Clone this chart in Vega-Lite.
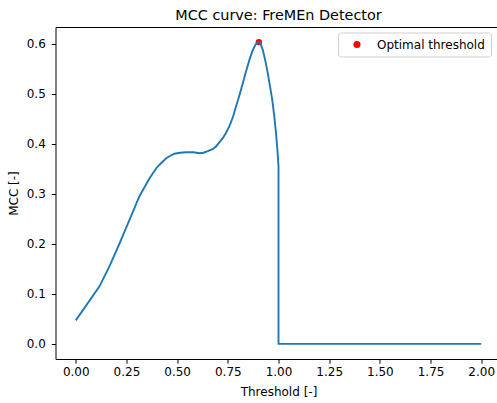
{
  "$schema": "https://vega.github.io/schema/vega-lite/v6.json",
  "autosize": {"type": "none"},
  "padding": {"left": 55.5, "top": 27, "right": 0, "bottom": 44},
  "width": 446,
  "height": 332,
  "title": {
    "text": "MCC curve: FreMEn Detector",
    "fontSize": 14.4,
    "fontWeight": "normal",
    "font": "DejaVu Sans",
    "color": "black",
    "anchor": "middle",
    "frame": "group",
    "offset": 4
  },
  "datasets": {
    "curve": [
      {"i": 0, "threshold": 0.0, "mcc": 0.047},
      {"i": 1, "threshold": 0.117, "mcc": 0.115},
      {"i": 2, "threshold": 0.166, "mcc": 0.155},
      {"i": 3, "threshold": 0.216, "mcc": 0.201},
      {"i": 4, "threshold": 0.265, "mcc": 0.248},
      {"i": 5, "threshold": 0.314, "mcc": 0.295},
      {"i": 6, "threshold": 0.364, "mcc": 0.331},
      {"i": 7, "threshold": 0.397, "mcc": 0.351},
      {"i": 8, "threshold": 0.413, "mcc": 0.358},
      {"i": 9, "threshold": 0.446, "mcc": 0.371},
      {"i": 10, "threshold": 0.462, "mcc": 0.375},
      {"i": 11, "threshold": 0.487, "mcc": 0.38},
      {"i": 12, "threshold": 0.515, "mcc": 0.382},
      {"i": 13, "threshold": 0.544, "mcc": 0.383},
      {"i": 14, "threshold": 0.58, "mcc": 0.383},
      {"i": 15, "threshold": 0.61, "mcc": 0.381},
      {"i": 16, "threshold": 0.63, "mcc": 0.382},
      {"i": 17, "threshold": 0.651, "mcc": 0.385},
      {"i": 18, "threshold": 0.675, "mcc": 0.389},
      {"i": 19, "threshold": 0.693, "mcc": 0.395},
      {"i": 20, "threshold": 0.709, "mcc": 0.403},
      {"i": 21, "threshold": 0.725, "mcc": 0.411},
      {"i": 22, "threshold": 0.74, "mcc": 0.421},
      {"i": 23, "threshold": 0.758, "mcc": 0.435},
      {"i": 24, "threshold": 0.775, "mcc": 0.453},
      {"i": 25, "threshold": 0.791, "mcc": 0.475},
      {"i": 26, "threshold": 0.808, "mcc": 0.498},
      {"i": 27, "threshold": 0.824, "mcc": 0.521},
      {"i": 28, "threshold": 0.84, "mcc": 0.545},
      {"i": 29, "threshold": 0.857, "mcc": 0.568},
      {"i": 30, "threshold": 0.872, "mcc": 0.586},
      {"i": 31, "threshold": 0.887, "mcc": 0.598},
      {"i": 32, "threshold": 0.895, "mcc": 0.602},
      {"i": 33, "threshold": 0.903, "mcc": 0.603},
      {"i": 34, "threshold": 0.912, "mcc": 0.599},
      {"i": 35, "threshold": 0.922, "mcc": 0.588},
      {"i": 36, "threshold": 0.935, "mcc": 0.566},
      {"i": 37, "threshold": 0.947, "mcc": 0.541},
      {"i": 38, "threshold": 0.958, "mcc": 0.515},
      {"i": 39, "threshold": 0.969, "mcc": 0.488},
      {"i": 40, "threshold": 0.98, "mcc": 0.452},
      {"i": 41, "threshold": 0.989, "mcc": 0.415},
      {"i": 42, "threshold": 0.995, "mcc": 0.385},
      {"i": 43, "threshold": 1.0, "mcc": 0.355},
      {"i": 44, "threshold": 1.0, "mcc": 0.0},
      {"i": 45, "threshold": 2.0, "mcc": 0.0}
    ],
    "optimum": [
      {"threshold": 0.903, "mcc": 0.603, "label": "Optimal threshold"}
    ]
  },
  "layer": [
    {
      "data": {"name": "optimum"},
      "mark": {"type": "point", "filled": true, "opacity": 1, "size": 41, "shape": "circle"},
      "encoding": {
        "x": {"field": "threshold", "type": "quantitative"},
        "y": {"field": "mcc", "type": "quantitative"},
        "color": {
          "field": "label",
          "type": "nominal",
          "scale": {"range": ["#ff0000"]},
          "legend": {
            "title": null,
            "orient": "none",
            "legendX": 282.5,
            "legendY": 5.5,
            "padding": 6,
            "symbolOffset": 7,
            "labelOffset": 14,
            "symbolSize": 50,
            "symbolType": "circle",
            "symbolStrokeWidth": 0,
            "labelFontSize": 12,
            "labelFont": "DejaVu Sans",
            "labelColor": "black",
            "strokeColor": "#d0d0d0",
            "fillColor": "white",
            "cornerRadius": 3
          }
        }
      }
    },
    {
      "data": {"name": "curve"},
      "mark": {"type": "line", "color": "#1f77b4", "strokeWidth": 1.9},
      "encoding": {
        "x": {"field": "threshold", "type": "quantitative"},
        "y": {"field": "mcc", "type": "quantitative"},
        "order": {"field": "i", "type": "quantitative"}
      }
    }
  ],
  "resolve": {"scale": {"x": "shared", "y": "shared"}},
  "encoding": {
    "x": {
      "field": "threshold",
      "type": "quantitative",
      "title": "Threshold [-]",
      "scale": {"domain": [-0.1, 2.1], "nice": false, "zero": false},
      "axis": {"values": [0, 0.25, 0.5, 0.75, 1, 1.25, 1.5, 1.75, 2], "format": ".2f"}
    },
    "y": {
      "field": "mcc",
      "type": "quantitative",
      "title": "MCC [-]",
      "scale": {"domain": [-0.0302, 0.6332], "nice": false, "zero": false},
      "axis": {"values": [0, 0.1, 0.2, 0.3, 0.4, 0.5, 0.6], "format": ".1f", "labelPadding": 6}
    }
  },
  "config": {
    "font": "DejaVu Sans",
    "view": {"stroke": "black", "strokeWidth": 1},
    "axis": {
      "grid": false,
      "domain": false,
      "tickColor": "black",
      "tickSize": 4.2,
      "tickWidth": 1,
      "labelPadding": 3,
      "labelFontSize": 12,
      "labelFont": "DejaVu Sans",
      "labelColor": "black",
      "titleFontSize": 12,
      "titleFont": "DejaVu Sans",
      "titleFontWeight": "normal",
      "titleColor": "black"
    },
    "axisX": {"titlePadding": 9},
    "axisY": {"titlePadding": 6}
  }
}
